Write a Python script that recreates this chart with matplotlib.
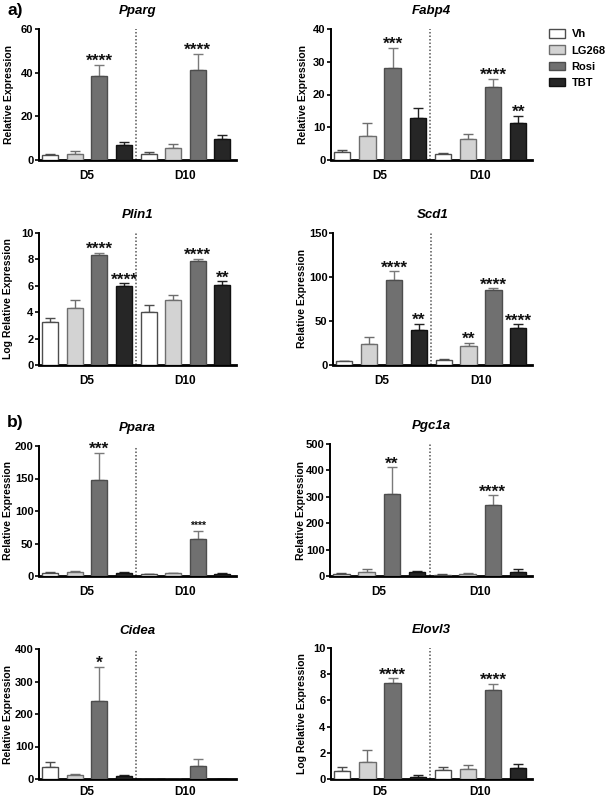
import matplotlib.pyplot as plt
import numpy as np
from matplotlib.patches import Patch

plt.rcParams['font.family'] = ['Liberation Sans', 'DejaVu Sans']
plt.rcParams['font.weight'] = 'bold'

treatments = ['Vh', 'LG268', 'Rosi', 'TBT']
days = ['D5', 'D10']
fills = ['#ffffff', '#d3d3d3', '#707070', '#262626']
edges = ['#4d4d4d', '#6e6e6e', '#4d4d4d', '#111111']
err_colors = ['#4d4d4d', '#6e6e6e', '#7a7a7a', '#222222']

# values: D5 (Vh, LG268, Rosi, TBT) then D10 (Vh, LG268, Rosi, TBT)
pparg_mean = [2.3, 2.7, 38.6, 6.7, 2.9, 5.3, 41.0, 9.6]
pparg_err = [0.6, 1.3, 5.0, 1.4, 0.9, 2.0, 7.6, 2.0]
pparg_stars = ['', '', '****', '', '', '', '****', '']

fabp4_mean = [2.4, 7.2, 28.1, 12.8, 1.9, 6.5, 22.2, 11.2]
fabp4_err = [0.8, 4.0, 6.2, 3.2, 0.3, 1.5, 2.6, 2.3]
fabp4_stars = ['', '', '***', '', '', '', '****', '**']

plin1_mean = [3.25, 4.35, 8.35, 6.0, 4.0, 4.95, 7.85, 6.05]
plin1_err = [0.3, 0.6, 0.15, 0.2, 0.55, 0.35, 0.2, 0.28]
plin1_stars = ['', '', '****', '****', '', '', '****', '**']

scd1_mean = [4.2, 24.0, 97.0, 40.0, 5.7, 21.3, 85.0, 42.5]
scd1_err = [0.7, 8.0, 9.5, 6.5, 1.1, 4.1, 2.0, 3.9]
scd1_stars = ['', '', '****', '**', '', '**', '****', '****']

ppara_mean = [4.6, 5.6, 147.7, 4.6, 2.6, 4.1, 56.9, 3.6]
ppara_err = [2.1, 2.6, 42.0, 1.0, 0.4, 1.0, 12.3, 0.5]
ppara_stars = ['', '', '***', '', '', '', '****', '']

pgc1a_mean = [8.8, 16.4, 309.0, 15.2, 5.0, 7.6, 267.7, 16.4]
pgc1a_err = [2.6, 10.1, 103.0, 2.5, 1.0, 2.4, 38.0, 8.6]
pgc1a_stars = ['', '', '**', '', '', '', '****', '']

cidea_mean = [37.9, 12.3, 240.0, 8.2, 0.3, 0.4, 40.0, 0.8]
cidea_err = [15.0, 4.1, 105.0, 4.1, 0.2, 0.2, 22.4, 0.3]
cidea_stars = ['', '', '*', '', '', '', '', '']

elovl3_mean = [0.59, 1.27, 7.35, 0.18, 0.66, 0.74, 6.8, 0.87]
elovl3_err = [0.3, 0.95, 0.35, 0.12, 0.28, 0.33, 0.45, 0.25]
elovl3_stars = ['', '', '****', '', '', '', '****', '']

W, H = 607, 801
fig = plt.figure(figsize=(W / 100, H / 100), dpi=100)


def px_axes(x0, ytop, x1, ybot):
    ax = fig.add_axes([x0 / W, 1 - ybot / H, (x1 - x0) / W, (ybot - ytop) / H])
    ax._px = (x0, x1)
    return ax


def draw_panel(ax, title, mean, err, stars, ymax, ystep, ylabel, label_x,
               small_idx=(), xpad=7):
    x = np.arange(8)
    for i in range(8):
        k = i % 4
        ax.errorbar(x[i], mean[i], yerr=[[0], [err[i]]], fmt='none',
                    ecolor=err_colors[k], elinewidth=1.0, capsize=3.5,
                    capthick=1.0, zorder=2)
        ax.bar(x[i], mean[i], width=0.65, color=fills[k], edgecolor=edges[k],
               linewidth=1.0, zorder=3)
        if stars[i]:
            fs = 7.5 if i in small_idx else 12.5
            ax.annotate(stars[i], (x[i], mean[i] + err[i]), xytext=(0, -3 if fs > 8 else 0),
                        textcoords='offset points', ha='center', va='bottom',
                        fontsize=fs, fontweight='bold', color='#111111')
    ax.axvline(3.5, color='#555555', lw=1.1, ls=(0, (1, 1.3)), zorder=1)
    ax.set_xlim(-0.45, 7.55)
    ax.set_ylim(0, ymax)
    ax.set_yticks(np.arange(0, ymax + ystep / 2, ystep))
    ax.set_xticks([1.5, 5.5])
    ax.set_xticklabels(days)
    ax.tick_params(axis='x', length=0, pad=xpad, labelsize=8.5)
    ax.tick_params(axis='y', direction='out', length=3, width=1.2, pad=1, labelsize=8)
    for s in ['top', 'right']:
        ax.spines[s].set_visible(False)
    ax.spines['left'].set_linewidth(1.4)
    ax.spines['bottom'].set_linewidth(2.0)
    ax.set_ylabel(ylabel, fontsize=7.5, fontweight='bold', va='center')
    x0, x1 = ax._px
    ax.yaxis.set_label_coords((label_x - x0) / (x1 - x0), 0.5)
    ax.set_title(title, fontsize=9.5, fontweight='bold', fontstyle='italic', pad=11)


ax = px_axes(39, 29, 236, 160)
draw_panel(ax, 'Pparg', pparg_mean, pparg_err, pparg_stars, 60, 20, 'Relative Expression', 9)
ax = px_axes(331, 29, 532, 160)
draw_panel(ax, 'Fabp4', fabp4_mean, fabp4_err, fabp4_stars, 40, 10, 'Relative Expression', 303)
ax = px_axes(39, 233, 236, 365)
draw_panel(ax, 'Plin1', plin1_mean, plin1_err, plin1_stars, 10, 2, 'Log Relative Expression', 8)
ax = px_axes(333, 233, 532, 365)
draw_panel(ax, 'Scd1', scd1_mean, scd1_err, scd1_stars, 150, 50, 'Relative Expression', 302)
ax = px_axes(39, 446, 236, 576)
draw_panel(ax, 'Ppara', ppara_mean, ppara_err, ppara_stars, 200, 50, 'Relative Expression', 8,
           small_idx=(6,))
ax = px_axes(330, 444, 532, 576)
draw_panel(ax, 'Pgc1a', pgc1a_mean, pgc1a_err, pgc1a_stars, 500, 100, 'Relative Expression', 301)
ax = px_axes(39, 649, 236, 779)
draw_panel(ax, 'Cidea', cidea_mean, cidea_err, cidea_stars, 400, 100, 'Relative Expression', 8,
           xpad=5)
ax = px_axes(331, 648, 532, 779)
draw_panel(ax, 'Elovl3', elovl3_mean, elovl3_err, elovl3_stars, 10, 2, 'Log Relative Expression',
           302, xpad=5)

fig.text(7 / W, 1 - 10 / H, 'a)', fontsize=12.5, fontweight='bold', va='center')
fig.text(7 / W, 1 - 423 / H, 'b)', fontsize=12.5, fontweight='bold', va='center')

handles = [Patch(facecolor=fills[k], edgecolor=edges[k], linewidth=1.0) for k in range(4)]
fig.legend(handles, treatments, loc='upper left', bbox_to_anchor=(547 / W, 1 - 27 / H),
           frameon=False, fontsize=8, handlelength=1.45, handleheight=0.8,
           labelspacing=0.55, handletextpad=0.55, borderaxespad=0, borderpad=0.2)

fig.savefig('out.png', dpi=100)
